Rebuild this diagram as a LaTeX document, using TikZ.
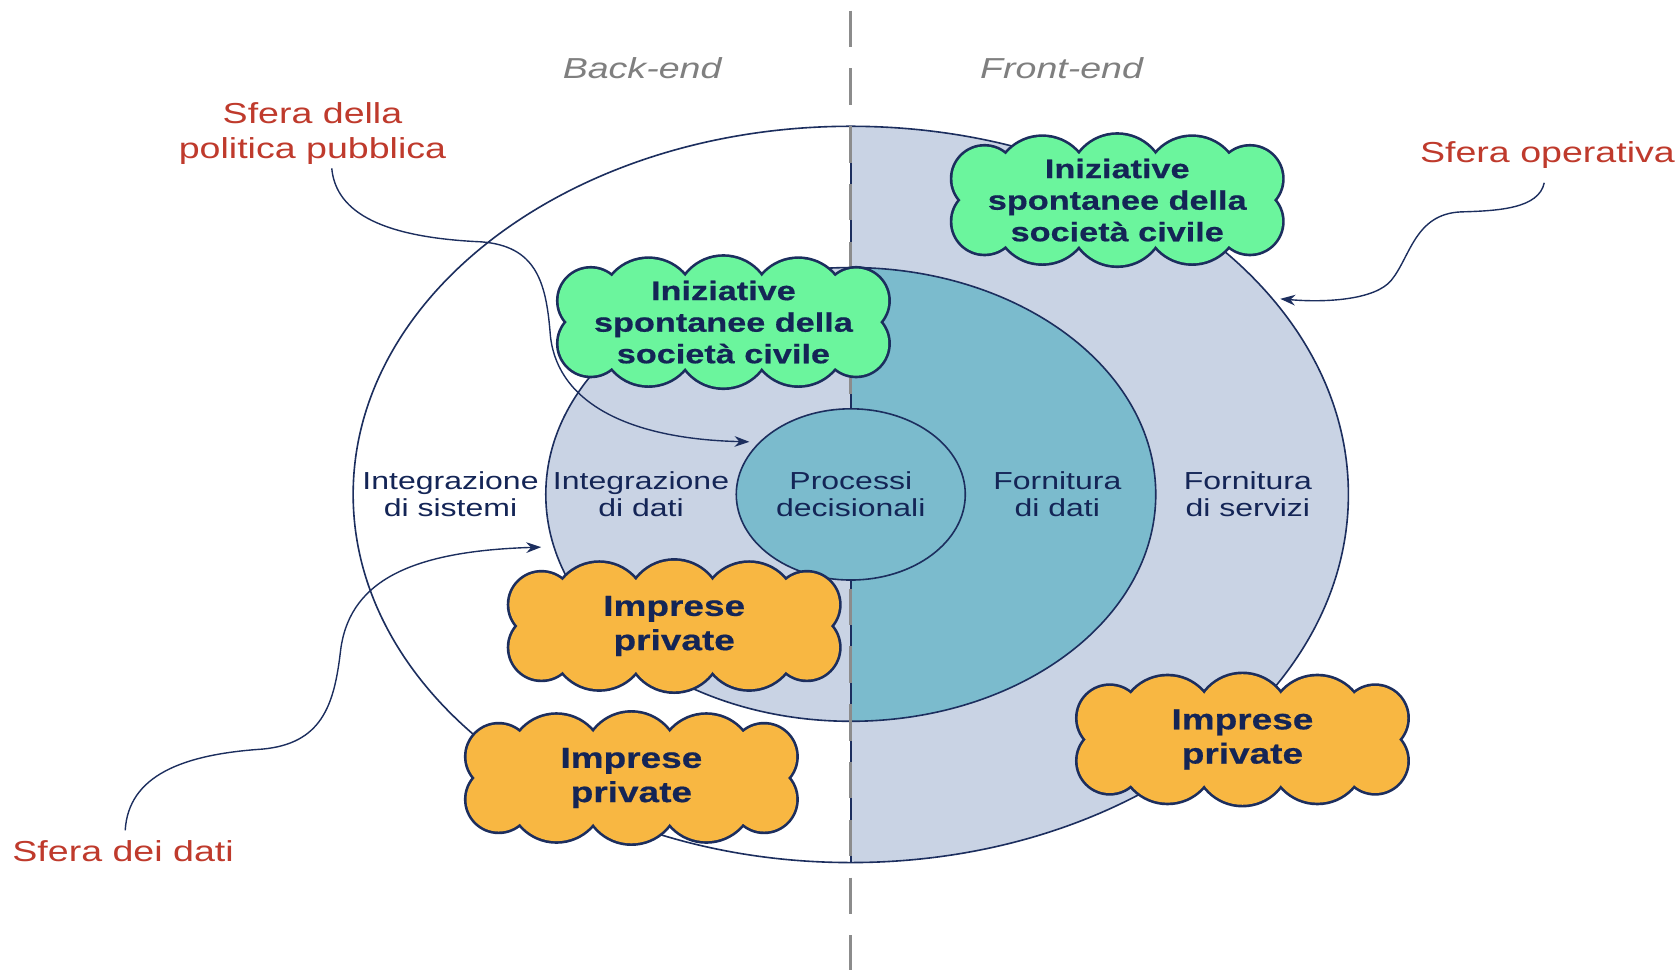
\documentclass[tikz,border=0pt]{standalone}
\usepackage{fontspec}
\setmainfont{Liberation Sans}[FakeStretch=1.3]
\newfontfamily\heavyfont{Liberation Sans}[FakeStretch=1.28, BoldFeatures={FakeBold=0.6}]
\usetikzlibrary{shapes.geometric,arrows.meta}
\definecolor{navy}{HTML}{1C2E5E}
\definecolor{navytxt}{HTML}{142556}
\definecolor{lightfill}{HTML}{C9D3E4}
\definecolor{tealfill}{HTML}{7BBBCD}
\definecolor{greenfill}{HTML}{6BF59D}
\definecolor{orangefill}{HTML}{F8B742}
\definecolor{redtxt}{HTML}{BF3A2C}
\definecolor{graytxt}{HTML}{7F7F7F}
\definecolor{dashgray}{HTML}{8C8C8C}
% cloud made of puffs: outline only on the outer border
\newcommand\puffs{-70/-15/44, 0/-17/44, 70/-15/44, 70/15/44, 0/17/44, -70/15/44,
                  -124/-20/30, -124/20/30, 124/-20/30, 124/20/30}
\newcommand\drawcloud[2]{%
  \begin{scope}[shift={#1}]
    \foreach \cx/\cy/\r in \puffs
      \draw[cloudline] (\cx,\cy) circle[radius=\r];
    \foreach \cx/\cy/\r in \puffs
      \fill[#2] (\cx,\cy) circle[radius=\r];
    \fill[#2] (-124,-22) rectangle (124,22);
  \end{scope}}
\begin{document}
\begin{tikzpicture}[x=1pt,y=-1pt,
  sphere/.style={ellipse, draw=navy, line width=1.5pt, inner sep=0pt, outer sep=0pt},
  lbl/.style={text=navytxt, align=center, inner sep=1pt, font=\fontsize{23}{25}\selectfont},
  redlbl/.style={text=redtxt, align=center, inner sep=1pt, font=\fontsize{27}{33}\selectfont},
  sidelbl/.style={text=graytxt, inner sep=1pt, font=\itshape\fontsize{27}{30}\selectfont},
  cloudline/.style={draw=navy, line width=5pt},
  gtxt/.style={text=navytxt, align=center, inner sep=0pt, font=\heavyfont\bfseries\fontsize{25}{29.5}\selectfont},
  otxt/.style={text=navytxt, align=center, inner sep=0pt, font=\heavyfont\bfseries\fontsize{27}{32}\selectfont},
  conn/.style={draw=navy, line width=1.3pt, -{Stealth[length=14pt,width=10pt]}}
]
\useasboundingbox (0,0) rectangle (1568,906);
\fill[white] (0,0) rectangle (1568,906);

% outer sphere: right half filled
\begin{scope}
  \clip (795,0) rectangle (1568,906);
  \fill[lightfill] (795,462) ellipse [x radius=465, y radius=344];
\end{scope}
\node[sphere, minimum width=930, minimum height=688] (outer) at (795,462) {};

% middle sphere
\begin{scope}
  \clip (0,0) rectangle (795,906);
  \fill[lightfill] (795,462) ellipse [x radius=285, y radius=212];
\end{scope}
\begin{scope}
  \clip (795,0) rectangle (1568,906);
  \fill[tealfill] (795,462) ellipse [x radius=285, y radius=212];
\end{scope}
\node[sphere, minimum width=570, minimum height=424] (mid) at (795,462) {};

% centre line
\draw[navy, line width=1.5pt] (outer.north) -- (outer.south);
\draw[dashgray, line width=3pt, dash pattern=on 34pt off 20pt] (795,10) -- (795,906);

% inner sphere
\node[sphere, lbl, fill=tealfill, minimum width=214, minimum height=160] (proc) at (795,462) {Processi\\decisionali};

% labels inside spheres
\node[lbl] (intsis) at (421,462) {Integrazione\\di sistemi};
\node[lbl] (intdat) at (599,462) {Integrazione\\di dati};
\node[lbl] (forndat) at (988,462) {Fornitura\\di dati};
\node[lbl] (fornser) at (1166,462) {Fornitura\\di servizi};

% side titles
\node[sidelbl] (back) at (600,64) {Back-end};
\node[sidelbl] (front) at (992,64) {Front-end};

% red labels
\node[redlbl] (pol) at (292,125) {Sfera della\\politica pubblica};
\node[redlbl] (oper) at (1446,145) {Sfera operativa};
\node[redlbl] (dati) at (115,795) {Sfera dei dati};

% connectors
\draw[conn, shorten >=10pt] ([xshift=18pt,yshift=-2pt]pol.south) .. controls (314,200) and (360,222) .. (450,226)
  .. controls (500,230) and (510,262) .. (514,310)
  .. controls (518,372) and (580,410) .. (proc.150);
\draw[conn, shorten >=8pt] ([xshift=-3pt,yshift=-12pt]oper.south) .. controls (1438,195) and (1400,197) .. (1365,198)
  .. controls (1322,200) and (1318,240) .. (1300,262)
  .. controls (1285,280) and (1240,283) .. (outer.25);
\draw[conn, shorten >=12pt] ([xshift=2pt,yshift=8pt]dati.north) .. controls (120,725) and (170,705) .. (245,700)
  .. controls (300,695) and (312,660) .. (318,610)
  .. controls (325,545) and (380,515) .. (mid.190);

% clouds
\drawcloud{(676,301)}{greenfill}
\node[gtxt] (g1t) at (676,301) {Iniziative\\spontanee della\\società civile};
\drawcloud{(1044,187)}{greenfill}
\node[gtxt] (g2t) at (1044,187) {Iniziative\\spontanee della\\società civile};
\drawcloud{(630,585)}{orangefill}
\node[otxt] (o1t) at (630,585) {Imprese\\private};
\drawcloud{(590,727)}{orangefill}
\node[otxt] (o2t) at (590,727) {Imprese\\private};
\drawcloud{(1161,691)}{orangefill}
\node[otxt] (o3t) at (1161,691) {Imprese\\private};
\end{tikzpicture}
\end{document}
